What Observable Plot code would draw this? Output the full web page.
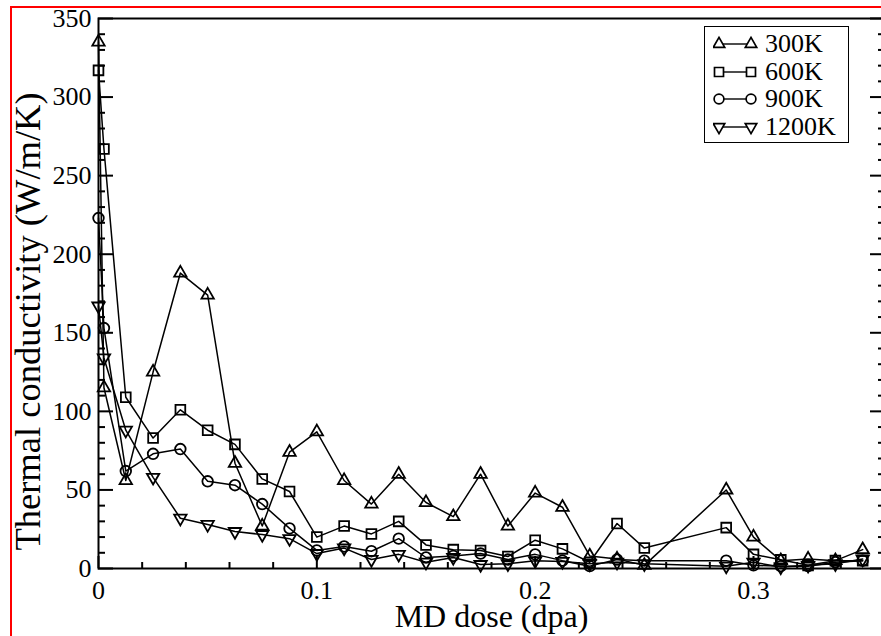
<!DOCTYPE html>
<html><head><meta charset="utf-8">
<script src="https://cdn.jsdelivr.net/npm/d3@7"></script>
<script src="https://cdn.jsdelivr.net/npm/@observablehq/plot@0.6"></script>
<style>
html,body{margin:0;padding:0;overflow:hidden;background:#fff;width:881px;height:636px;}
#wrap{position:relative;width:881px;height:636px;overflow:hidden;}
#chart{position:absolute;left:0;top:0;}
#redframe{position:absolute;left:10px;top:6px;width:2000px;height:2000px;border-left:2px solid #f00;border-top:2px solid #f00;pointer-events:none;}
#legend{position:absolute;left:704px;top:26px;width:143px;height:115px;border:1px solid #000;background:#fff;font-family:"Liberation Serif";font-size:26px;color:#000;}
.row{position:absolute;left:0;height:26px;width:143px;}
.row svg{position:absolute;left:8px;top:-1px;}
.row span{position:absolute;left:60px;top:0;line-height:26px;}
</style></head><body>
<div id="wrap"><div id="chart"></div><div id="legend"></div><div id="redframe"></div></div>
<script>
// MD dose (dpa)
const dose = [0, 0.0025, 0.0125, 0.025, 0.0375, 0.05, 0.0625, 0.075, 0.0875, 0.1, 0.1125, 0.125, 0.1375, 0.15, 0.1625, 0.175, 0.1875, 0.2, 0.2125, 0.225, 0.2375, 0.25, 0.2875, 0.3, 0.3125, 0.325, 0.3375, 0.35];
// Thermal conductivity (W/m/K)
const k300  = [335, 115, 56, 125, 188, 174, 67, 27, 74, 87, 56, 41, 60, 42, 33, 60, 27, 48, 39, 8, 6, 2, 50, 20, 5, 6, 5, 12];
const k600  = [317, 267, 109, 83, 101, 88, 79, 57, 49, 20, 27, 22, 30, 15, 12, 11.5, 7.6, 18, 12.5, 4, 28.6, 13, 26, 9, 5.5, 2, 5, 5];
const k900  = [223, 153, 62, 73, 76, 55.5, 53, 41, 25.5, 11.5, 14, 11, 19, 7, 8, 9.5, 5.7, 9, 5, 1.5, 5.7, 5, 5, 2, 1.5, 1.5, 4, 5];
const k1200 = [167, 134, 88, 58, 32, 28, 23.5, 21.6, 19, 9.5, 13, 5.7, 9, 4, 7, 2.5, 3, 5, 4.5, 3, 4, 3, 1.5, 4, 1, 2, 3, 6];
const seriesNames = ["300K", "600K", "900K", "1200K"];

const xTickValues = [0, 0.1, 0.2, 0.3];
const xTickLabels = ["0", "0.1", "0.2", "0.3"];
const xMinorTicks = [0.02, 0.04, 0.06, 0.08, 0.12, 0.14, 0.16, 0.18, 0.22, 0.24, 0.26, 0.28, 0.32, 0.34];
const yTickValues = [0, 50, 100, 150, 200, 250, 300, 350];
const yTickLabels = ["0", "50", "100", "150", "200", "250", "300", "350"];
const yMinorTicks = [10, 20, 30, 40, 60, 70, 80, 90, 110, 120, 130, 140, 160, 170, 180, 190, 210, 220, 230, 240, 260, 270, 280, 290, 310, 320, 330, 340];

const triDown = {draw(ctx, size) {
  const s3 = Math.sqrt(3);
  const y = -Math.sqrt(size / (s3 * 3));
  ctx.moveTo(0, -y * 2); ctx.lineTo(-s3 * y, y); ctx.lineTo(s3 * y, y); ctx.closePath();
}};
const symbols = [d3.symbolTriangle, d3.symbolSquare, d3.symbolCircle, triDown];
const plotSymbols = ["triangle", "square", "circle", triDown];
const radii = [4.6, 5.5, 5.3, 4.6];
const values = [k300, k600, k900, k1200];

const rows = seriesNames.flatMap((s, j) => dose.map((d, i) => ({series: s, dose: d, k: values[j][i]})));

const marks = [];
seriesNames.forEach((s) => {
  marks.push(Plot.line(rows.filter(r => r.series === s), {x: "dose", y: "k", stroke: "#000", strokeWidth: 1.5}));
});
seriesNames.forEach((s, j) => {
  marks.push(Plot.dot(rows.filter(r => r.series === s), {x: "dose", y: "k", symbol: plotSymbols[j], r: radii[j], stroke: "#000", fill: "none", strokeWidth: 1.8}));
});

const empty = () => "";
marks.push(
  Plot.axisX({anchor: "bottom", ticks: xTickValues, tickSize: -12, tickFormat: empty, label: null, strokeWidth: 2}),
  Plot.axisX({anchor: "bottom", ticks: xMinorTicks, tickSize: -6, tickFormat: empty, label: null, strokeWidth: 2}),
  Plot.axisX({anchor: "bottom", ticks: xTickValues, tickSize: 0, tickPadding: 12, fontSize: 26, tickFormat: d => xTickLabels[xTickValues.indexOf(d)], label: null}),
  Plot.axisY({anchor: "left", ticks: yTickValues, tickSize: -15, tickFormat: empty, label: null, strokeWidth: 2}),
  Plot.axisY({anchor: "left", ticks: yMinorTicks, tickSize: -7, tickFormat: empty, label: null, strokeWidth: 2}),
  Plot.axisY({anchor: "right", ticks: yTickValues, tickSize: -15, tickFormat: empty, label: null, strokeWidth: 2}),
  Plot.axisY({anchor: "right", ticks: yMinorTicks, tickSize: -7, tickFormat: empty, label: null, strokeWidth: 2}),
  Plot.axisY({anchor: "left", ticks: yTickValues, tickSize: 0, tickPadding: 7, fontSize: 26, tickFormat: d => yTickLabels[yTickValues.indexOf(d)], label: null}),
  Plot.frame({stroke: "#000", strokeWidth: 2}),
  Plot.text(["MD dose (dpa)"], {text: d => d, frameAnchor: "bottom", textAnchor: "middle", dy: 48, lineAnchor: "middle", fontSize: 32, fill: "#000"}),
  Plot.text(["Thermal conductivity (W/m/K)"], {text: d => d, frameAnchor: "left", textAnchor: "middle", rotate: -90, dx: -70, dy: 28, lineAnchor: "middle", fontSize: 36.5, fill: "#000"})
);

const chart = Plot.plot({
  width: 900, height: 636,
  marginLeft: 98, marginRight: 16, marginTop: 18, marginBottom: 68,
  x: {domain: [0, 0.36]},
  y: {domain: [0, 350]},
  style: {fontFamily: "Liberation Serif", background: "transparent", maxWidth: "none", overflow: "visible", color: "#000"},
  marks
});
document.getElementById("chart").appendChild(chart);

// legend
const legend = document.getElementById("legend");
const rowTops = [4, 32, 59, 87];
seriesNames.forEach((s, j) => {
  const row = document.createElement("div");
  row.className = "row";
  row.style.top = rowTops[j] + "px";
  const ns = "http://www.w3.org/2000/svg";
  const svg = document.createElementNS(ns, "svg");
  svg.setAttribute("width", 46); svg.setAttribute("height", 28);
  const line = document.createElementNS(ns, "line");
  line.setAttribute("x1", 6); line.setAttribute("x2", 38); line.setAttribute("y1", 14); line.setAttribute("y2", 14);
  line.setAttribute("stroke", "#000"); line.setAttribute("stroke-width", 1.4);
  svg.appendChild(line);
  const pathD = d3.symbol().type(symbols[j]).size(Math.PI * radii[j] * radii[j] * 0.85)();
  [6, 38].forEach(cx => {
    const p = document.createElementNS(ns, "path");
    p.setAttribute("d", pathD);
    p.setAttribute("transform", `translate(${cx},14)`);
    p.setAttribute("fill", "#fff"); p.setAttribute("stroke", "#000"); p.setAttribute("stroke-width", 1.7);
    svg.appendChild(p);
  });
  row.appendChild(svg);
  const span = document.createElement("span");
  span.textContent = s;
  row.appendChild(span);
  legend.appendChild(row);
});
</script>
</body></html>
